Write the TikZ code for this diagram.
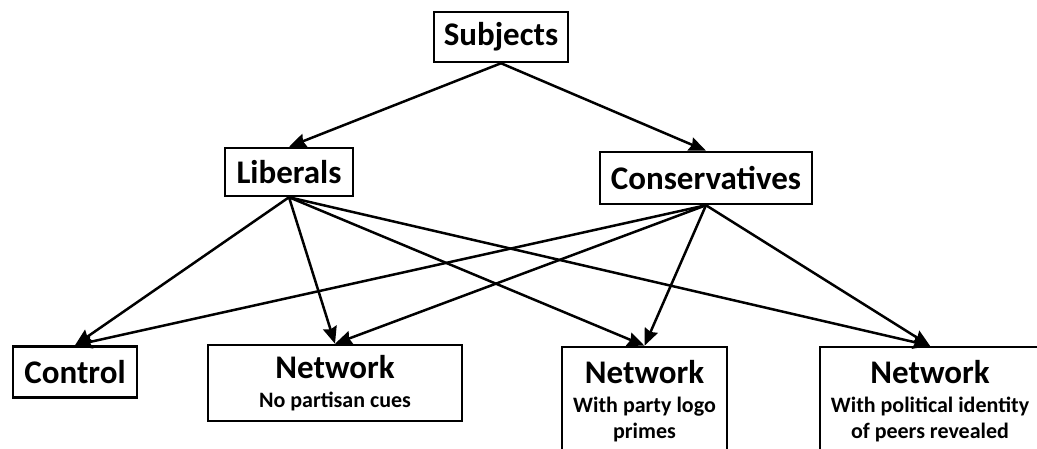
\documentclass[tikz,border=0pt]{standalone}
\usepackage{fontspec}
\setmainfont{Carlito}
\usetikzlibrary{arrows.meta}
\newcommand{\bigtxt}{\fontsize{33}{38}\selectfont}
\newcommand{\smalltxt}{\fontsize{22}{26}\selectfont}
\tikzset{
    groupbox/.style={draw, line width=2.5pt, inner sep=0pt, align=center, font=\bfseries\bigtxt},
    arr/.style={-{Stealth[length=17pt, width=14pt, inset=2pt]}, line width=2.5pt},
}

\begin{document}
\begin{tikzpicture}[x=1pt, y=-1pt]

            % Page frame (bottom boxes run off the edge)
            \useasboundingbox (0,0) rectangle (1037,449);
            \clip (0,0) rectangle (1037,449);

            % Top node
            \node[groupbox, minimum width=134pt, minimum height=50pt] (subj) at (501,37) {Subjects};

            % Groups
            \node[groupbox, minimum width=128pt, minimum height=48pt] (lib) at (289,172) {Liberals};
            \node[groupbox, minimum width=212pt, minimum height=52pt] (cons) at (706,178) {Conservatives};

            % Conditions
            \node[groupbox, minimum width=124pt, minimum height=51pt] (ctrl) at (75,372) {Control};
            \node[groupbox, minimum width=254pt, minimum height=76pt] (net1) at (335,383)
                {Network\\[-9pt]\smalltxt No partisan cues};
            \node[groupbox, minimum width=165pt, minimum height=109pt] (net2) at (644.5,401.5)
                {Network\\[-9pt]\smalltxt With party logo\\[-12pt]\smalltxt primes};
            \node[groupbox, minimum width=220pt, minimum height=109pt] (net3) at (930,401.5)
                {Network\\[-9pt]\smalltxt With political identity\\[-12pt]\smalltxt of peers revealed};

            % Relationships
            \draw[arr] (subj.south) -- (lib.north);
            \draw[arr] (subj.south) -- (cons.north);
            \foreach \cond in {ctrl, net1, net2, net3} {
                \draw[arr] (lib.south) -- (\cond.north);
                \draw[arr] (cons.south) -- (\cond.north);
            }

        \end{tikzpicture}
\end{document}
